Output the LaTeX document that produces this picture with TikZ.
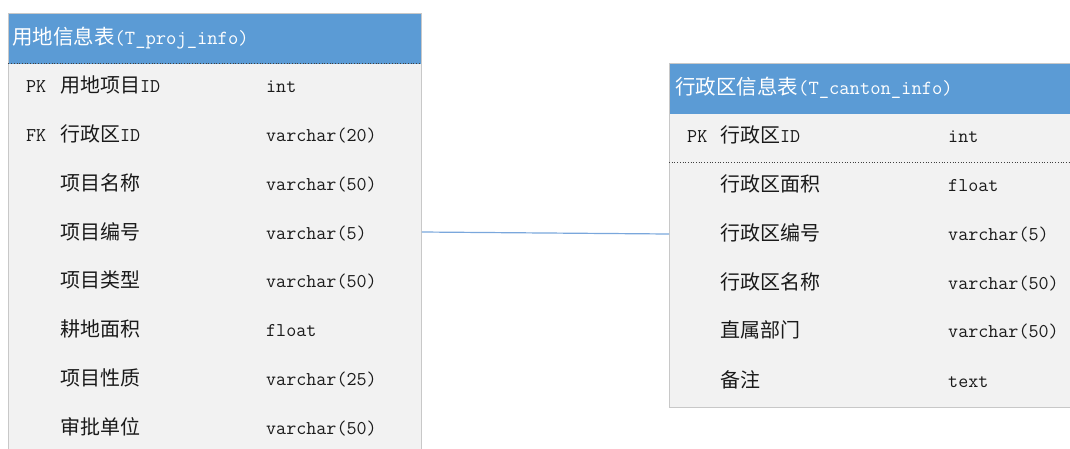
\documentclass[tikz,border=0pt]{standalone}
\usepackage{fontspec}
\newfontfamily\cjk[Scale=1.025]{Noto Sans CJK SC}
\definecolor{hdrblue}{HTML}{5B9BD5}
\definecolor{bodygray}{HTML}{F2F2F2}
\definecolor{edgegray}{HTML}{C8C8C8}
\definecolor{linkblue}{HTML}{7AA7DC}
\definecolor{txt}{HTML}{1A1A1A}
\tikzset{
  tbl/.style={draw=edgegray, fill=bodygray, line width=0.8pt, anchor=north west, inner sep=0pt},
  hdr/.style={fill=hdrblue, anchor=north west, inner sep=0pt},
  cell/.style={anchor=west, inner sep=0pt, text=txt, text height=15pt, text depth=3pt,
    font=\fontsize{19.5pt}{19.5pt}\selectfont\ttfamily},
  htxt/.style={cell, text=white, font=\fontsize{20pt}{20pt}\selectfont\ttfamily},
  sep/.style={draw=black!75, dotted, line width=0.7pt},
  link/.style={draw=linkblue, line width=1.2pt}
}
\begin{document}
\begin{tikzpicture}[x=1pt,y=-1pt]
\useasboundingbox (0,0) rectangle (1070,448);
\clip (0,0) rectangle (1070,448);
% left table
\node[tbl, minimum width=413pt, minimum height=460pt] (lt) at (8,13) {};
\node[hdr, minimum width=412pt, minimum height=50pt] (lh) at (8.4,13.4) {};
\draw[sep] (lh.south west) -- (lh.south east);
\node[htxt] (lht) at (12,38) {{\cjk 用地信息表}(T\_proj\_info)};
\node[cell] (lk1) at (26,86) {PK};
\node[cell] (ln1) at (60,86) {{\cjk 用地项目}ID};
\node[cell] (lt1) at (266,86) {int};
\node[cell] (lk2) at (26,135) {FK};
\node[cell] (ln2) at (60,135) {{\cjk 行政区}ID};
\node[cell] (lt2) at (266,135) {varchar(20)};
\node[cell] (ln3) at (60,184) {\cjk 项目名称};
\node[cell] (lt3) at (266,184) {varchar(50)};
\node[cell] (ln4) at (60,233) {\cjk 项目编号};
\node[cell] (lt4) at (266,233) {varchar(5)};
\node[cell] (ln5) at (60,281) {\cjk 项目类型};
\node[cell] (lt5) at (266,281) {varchar(50)};
\node[cell] (ln6) at (60,330) {\cjk 耕地面积};
\node[cell] (lt6) at (266,330) {float};
\node[cell] (ln7) at (60,379) {\cjk 项目性质};
\node[cell] (lt7) at (266,379) {varchar(25)};
\node[cell] (ln8) at (60,428) {\cjk 审批单位};
\node[cell] (lt8) at (266,428) {varchar(50)};
% right table
\node[tbl, minimum width=420pt, minimum height=344pt] (rt) at (669,63) {};
\node[hdr, minimum width=420pt, minimum height=50pt] (rh) at (669.4,63.4) {};
\node[htxt] (rht) at (675,88) {{\cjk 行政区信息表}(T\_canton\_info)};
\node[cell] (rk1) at (687,136) {PK};
\node[cell] (rn1) at (720,136) {{\cjk 行政区}ID};
\node[cell] (rt1) at (948,136) {int};
\coordinate (rsep) at (669,162);
\draw[sep] (rsep) -- (rsep -| rt.east);
\node[cell] (rn2) at (720,185) {\cjk 行政区面积};
\node[cell] (rt2) at (948,185) {float};
\node[cell] (rn3) at (720,234) {\cjk 行政区编号};
\node[cell] (rt3) at (948,234) {varchar(5)};
\node[cell] (rn4) at (720,283) {\cjk 行政区名称};
\node[cell] (rt4) at (948,283) {varchar(50)};
\node[cell] (rn5) at (720,331) {\cjk 直属部门};
\node[cell] (rt5) at (948,331) {varchar(50)};
\node[cell] (rn6) at (720,381) {\cjk 备注};
\node[cell] (rt6) at (948,381) {text};
% connector
\coordinate (la) at (lt.east |- 0,232);
\coordinate (rb) at (rt.west |- 0,234);
\draw[link] (la) -- (rb);
\end{tikzpicture}
\end{document}
